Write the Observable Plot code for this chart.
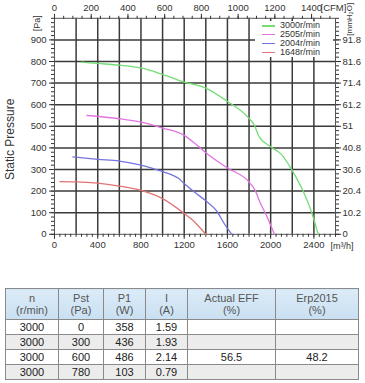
<!DOCTYPE html>
<html>
<head>
<meta charset="utf-8">
<script src="https://cdn.jsdelivr.net/npm/d3@7"></script>
<script src="https://cdn.jsdelivr.net/npm/@observablehq/plot@0.6"></script>
<style>
  html, body { margin: 0; padding: 0; background: #fff; }
  #wrap { position: relative; width: 365px; height: 383px; font-family: "Liberation Sans", Arial, sans-serif; }
  #chart { position: absolute; left: 0; top: 0; }
  #legend { position: absolute; left: 255px; top: 21px; width: 78px; height: 36px; background: #fff; }
  #legend .item { position: absolute; left: 0; height: 9px; font-size: 9px; line-height: 9px; color: #333; white-space: nowrap; }
  #legend .sw { position: absolute; left: 7px; top: 4px; width: 13px; height: 1.6px; }
  #legend .lb { position: absolute; left: 25px; top: 0; }
  table { position: absolute; left: 5px; top: 288px; border-collapse: collapse; table-layout: fixed; width: 353px; font-size: 11px; }
  td, th { border: 1px solid #8a8a8a; text-align: center; padding: 0; }
  th { background: linear-gradient(#dcebf7, #c9e0f2); color: #555; font-weight: normal; height: 30px; line-height: 12px; }
  td { height: 14px; line-height: 14px; color: #222; }
  tr.alt td { background: #ececec; }
</style>
</head>
<body>
<div id="wrap">
  <div id="chart"></div>
  <div id="legend"></div>
</div>
<script>
// ---- data ----
const seriesNames = ["3000r/min", "2505r/min", "2004r/min", "1648r/min"];
const seriesColors = ["#74de74", "#e174e1", "#7474e1", "#e17474"];

const flow3000 = [250, 400, 600, 800, 1000, 1200, 1400, 1600, 1800, 1850, 1890, 2000, 2100, 2200, 2300, 2380, 2440];
const pres3000 = [797, 791, 783, 770, 740, 705, 677, 615, 537, 505, 455, 405, 370, 295, 200, 100, 0];

const flow2505 = [300, 600, 800, 1000, 1200, 1300, 1400, 1600, 1800, 1860, 1900, 1960, 2035];
const pres2505 = [550, 535, 519, 492, 458, 420, 378, 307, 242, 200, 150, 88, 0];

const flow2004 = [170, 400, 600, 800, 1000, 1100, 1150, 1200, 1300, 1400, 1500, 1570, 1640];
const pres2004 = [358, 347, 339, 320, 290, 272, 258, 235, 193, 155, 108, 50, 0];

const flow1648 = [50, 200, 400, 600, 800, 1000, 1200, 1300, 1400];
const pres1648 = [244, 243, 237, 223, 203, 165, 96, 55, 0];

const paTicks = [0, 100, 200, 300, 400, 500, 600, 700, 800, 900];
const mmH2OLabels = ["0", "10.2", "20.4", "30.6", "40.8", "51", "61.2", "71.4", "81.6", "91.8"];
const m3hTicks = [0, 400, 800, 1200, 1600, 2000, 2400];
const cfmTicks = [0, 200, 400, 600, 800, 1000, 1200, 1400];
const M3H_PER_CFM = 1.699;

const gridFlow = d3.range(200, 2600, 200);
const gridPa = d3.range(100, 1000, 100);
const minorFlow = d3.range(0, 2601, 50);
const minorPa = d3.range(0, 1001, 20);
const minorCfm = d3.range(0, 1531, 50);

// table
const tableHeader = [["n", "(r/min)"], ["Pst", "(Pa)"], ["P1", "(W)"], ["I", "(A)"], ["Actual EFF", "(%)"], ["Erp2015", "(%)"]];
const colN = ["3000", "3000", "3000", "3000"];
const colPst = ["0", "300", "600", "780"];
const colP1 = ["358", "436", "486", "103"];
const colI = ["1.59", "1.93", "2.14", "0.79"];
const colEff = ["", "", "56.5", ""];
const colErp = ["", "", "48.2", ""];
const colWidths = [53, 45, 42, 42, 88, 83];

// ---- build ----
const flows = [flow3000, flow2505, flow2004, flow1648];
const pres = [pres3000, pres2505, pres2004, pres1648];
const rows = [];
seriesNames.forEach((s, i) => flows[i].forEach((f, j) => rows.push({series: s, flow: f, p: pres[i][j]})));

const toM3h = c => c * M3H_PER_CFM;
const mmLabel = d => mmH2OLabels[paTicks.findIndex(p => Math.abs(p - d) < 1e-6)];
const ink = "#333";
const rot = {rotate: -90, textAnchor: "middle", lineAnchor: "middle", fill: ink};

const plot = Plot.plot({
  width: 365,
  height: 262,
  marginLeft: 54,
  marginRight: 30,
  marginTop: 17.8,
  marginBottom: 28.2,
  x: {domain: [0, 2600]},
  y: {domain: [0, 1000]},
  color: {domain: seriesNames, range: seriesColors},
  style: {fontFamily: "Liberation Sans, Arial, sans-serif", fontSize: "9.5px", color: ink, background: "#fff", overflow: "visible"},
  marks: [
    Plot.gridX(gridFlow, {stroke: "#3a3a3a", strokeOpacity: 1, strokeWidth: 1.5}),
    Plot.gridY(gridPa, {stroke: "#3a3a3a", strokeOpacity: 1, strokeWidth: 1.5}),
    Plot.frame({stroke: "#555", strokeWidth: 1}),
    // left axis
    Plot.axisY(paTicks, {anchor: "left", tickSize: 5, tickPadding: 3, label: null, tickFormat: d => String(d), stroke: ink}),
    Plot.axisY(minorPa, {anchor: "left", tickSize: 3, tickFormat: () => "", label: null, stroke: ink}),
    // right axis (mmH2O)
    Plot.axisY(paTicks, {anchor: "right", tickSize: 5, tickPadding: 2, label: null, tickFormat: mmLabel, stroke: ink}),
    Plot.axisY(minorPa, {anchor: "right", tickSize: 3, tickFormat: () => "", label: null, stroke: ink}),
    // bottom axis (m3/h)
    Plot.axisX(m3hTicks, {anchor: "bottom", tickSize: 5, tickPadding: 2, label: null, tickFormat: d => String(d), stroke: ink}),
    Plot.axisX(minorFlow, {anchor: "bottom", tickSize: 3, tickFormat: () => "", label: null, stroke: ink}),
    // top axis (CFM): ticks + labels
    Plot.axisX(cfmTicks.map(toM3h), {anchor: "top", tickSize: 5, tickFormat: () => "", label: null, stroke: ink}),
    Plot.axisX(minorCfm.map(toM3h).filter(v => v <= 2600), {anchor: "top", tickSize: 3, tickFormat: () => "", label: null, stroke: ink}),
    Plot.text(cfmTicks, {x: toM3h, text: d => String(d), frameAnchor: "top", lineAnchor: "bottom", dy: -7, fill: ink, fontSize: 9.5}),
    // curves
    Plot.line(rows, {x: "flow", y: "p", z: "series", stroke: "series", strokeWidth: 1.3, curve: "monotone-x"}),
    // axis titles
    Plot.text(["Static Pressure"], {frameAnchor: "left", dx: -44, dy: 13, fontSize: 12, ...rot}),
    Plot.text(["[Pa]"], {frameAnchor: "top-left", dx: -17, dy: 5, fontSize: 9, ...rot}),
    Plot.text(["[mmH\u2082O]"], {frameAnchor: "top-right", dx: 14, dy: 1, fontSize: 8, ...rot}),
    Plot.text(["[m\u00b3/h]"], {frameAnchor: "bottom-right", dx: -5, dy: 12, textAnchor: "start", lineAnchor: "middle", fontSize: 9, fill: ink}),
    Plot.text(["[CFM]"], {x: [toM3h(1400)], frameAnchor: "top", lineAnchor: "bottom", dx: 9, dy: -7, textAnchor: "start", fontSize: 9.5, fill: ink})
  ]
});
document.getElementById("chart").appendChild(plot);

// legend
const leg = document.getElementById("legend");
seriesNames.forEach((s, i) => {
  const it = document.createElement("div");
  it.className = "item";
  it.style.top = (i * 8.9) + "px";
  it.innerHTML = `<span class="sw" style="background:${seriesColors[i]}"></span><span class="lb">${s}</span>`;
  leg.appendChild(it);
});

// table
const tbl = document.createElement("table");
const cg = document.createElement("colgroup");
colWidths.forEach(w => { const c = document.createElement("col"); c.style.width = w + "px"; cg.appendChild(c); });
tbl.appendChild(cg);
const hr = document.createElement("tr");
tableHeader.forEach(h => { const th = document.createElement("th"); th.innerHTML = h[0] + "<br>" + h[1]; hr.appendChild(th); });
tbl.appendChild(hr);
colN.forEach((_, r) => {
  const tr = document.createElement("tr");
  if (r % 2 === 1) tr.className = "alt";
  [colN, colPst, colP1, colI, colEff, colErp].forEach(col => {
    const td = document.createElement("td");
    td.textContent = col[r];
    tr.appendChild(td);
  });
  tbl.appendChild(tr);
});
document.getElementById("wrap").appendChild(tbl);
</script>
</body>
</html>
